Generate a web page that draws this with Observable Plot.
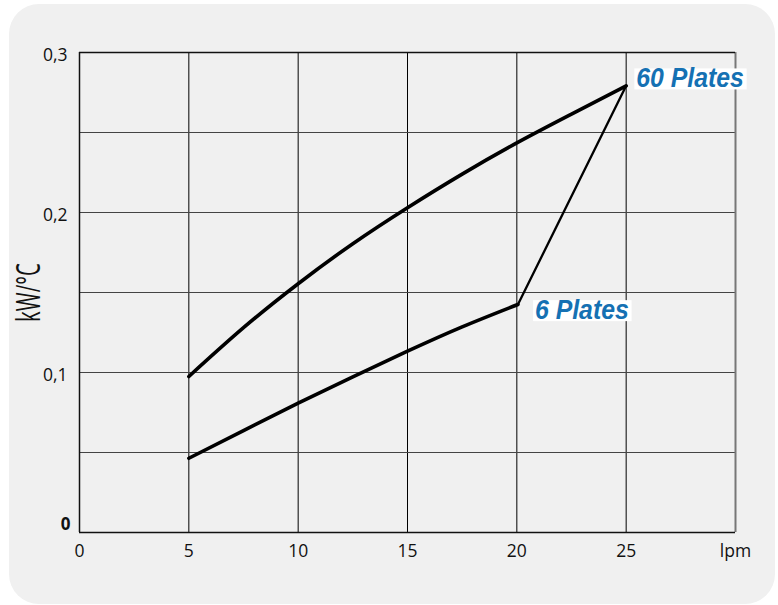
<!DOCTYPE html>
<html>
<head>
<meta charset="utf-8">
<script src="https://cdn.jsdelivr.net/npm/d3@7"></script>
<script src="https://cdn.jsdelivr.net/npm/@observablehq/plot@0.6"></script>
<style>
  html, body { margin: 0; padding: 0; background: #ffffff; }
  #wrap { position: relative; width: 778px; height: 605px; overflow: hidden; }
  #panel { position: absolute; left: 9px; top: 4px; width: 766px; height: 600px; background: #f0f0f0; border-radius: 30px; }
  #chart { position: absolute; left: 0; top: 0; }
</style>
</head>
<body>
<div id="wrap"><div id="panel"></div><div id="chart"></div></div>
<script>
// Data
const flow60 = [5, 7.5, 10, 12.5, 15, 17.5, 20, 22.5, 25];
const power60 = [0.0975, 0.128, 0.1555, 0.1805, 0.203, 0.224, 0.2435, 0.2615, 0.2792];
const flow6 = [5, 7.5, 10, 12.5, 15, 17.5, 20.05];
const power6 = [0.0464, 0.0637, 0.0808, 0.0973, 0.1133, 0.1285, 0.1425];
const linkFlow = [20.05, 25];
const linkPower = [0.1425, 0.2792];
const xTicks = [0, 5, 10, 15, 20, 25, 30];
const xTickLabels = ["0", "5", "10", "15", "20", "25", "lpm"];
const yTicks = [0.1, 0.2, 0.3];
const yTickLabels = ["0,1", "0,2", "0,3"];
const xGrid = [5, 10, 15, 20, 25];
const yGrid = [0.05, 0.1, 0.15, 0.2, 0.25];
const seriesLabels = ["60 Plates", "6 Plates"];
const yTitle = "kW/°C";

const s60 = flow60.map((x, i) => ({x, y: power60[i]}));
const s6 = flow6.map((x, i) => ({x, y: power6[i]}));
const link = linkFlow.map((x, i) => ({x, y: linkPower[i]}));
const lab60 = [{x: flow60[flow60.length - 1], y: power60[power60.length - 1], t: seriesLabels[0]}];
const lab6 = [{x: flow6[flow6.length - 1], y: power6[power6.length - 1], t: seriesLabels[1]}];

const labelFont = "'Liberation Sans', Arial, sans-serif";

const plot = Plot.plot({
  width: 778,
  height: 605,
  marginLeft: 79,
  marginRight: 43,
  marginTop: 52,
  marginBottom: 73,
  style: {background: "transparent", fontFamily: "'Open Sans', sans-serif", color: "#111"},
  x: {domain: [0, 30]},
  y: {domain: [0, 0.3]},
  marks: [
    Plot.gridX(xGrid, {stroke: "#000", strokeOpacity: 1, strokeWidth: 1}),
    Plot.gridY(yGrid, {stroke: "#444", strokeOpacity: 1, strokeWidth: 1}),
    Plot.ruleX([0], {stroke: "#111", strokeWidth: 1.5}),
    Plot.ruleX([30], {stroke: "#777", strokeWidth: 2}),
    Plot.ruleY([0], {stroke: "#111", strokeWidth: 1.5}),
    Plot.ruleY([0.3], {stroke: "#111", strokeWidth: 1.3}),
    Plot.axisX({ticks: xTicks, tickFormat: d => xTickLabels[xTicks.indexOf(d)], tickSize: 0, tickPadding: 12, fontSize: 17.5, label: null}),
    Plot.axisY({ticks: yTicks, tickFormat: d => yTickLabels[yTicks.indexOf(d)], tickSize: 0, tickPadding: 12, dy: 3, fontSize: 17.5, label: null}),
    Plot.axisY({ticks: [0], tickFormat: () => "0", tickSize: 0, tickPadding: 9, dy: -8, fontSize: 17, fontWeight: "bold", label: null}),
    Plot.text([yTitle], {frameAnchor: "left", textAnchor: "middle", dx: -50, rotate: -90, fontSize: 32, fontFamily: "'Open Sans', sans-serif", fill: "#111", className: "ytitle"}),
    Plot.line(link, {x: "x", y: "y", stroke: "#000", strokeWidth: 2.3}),
    Plot.line(s60, {x: "x", y: "y", stroke: "#000", strokeWidth: 3.6, curve: "natural"}),
    Plot.line(s6, {x: "x", y: "y", stroke: "#000", strokeWidth: 3.6, curve: "natural"}),
    Plot.text(lab60, {x: "x", y: "y", text: "t", textAnchor: "start", dx: 10, dy: -7, fontSize: 27, fontWeight: "bold", fontStyle: "italic", fontFamily: labelFont, fill: "#1571b3", className: "plate-label"}),
    Plot.text(lab6, {x: "x", y: "y", text: "t", textAnchor: "start", dx: 17, dy: 6, fontSize: 27, fontWeight: "bold", fontStyle: "italic", fontFamily: labelFont, fill: "#1571b3", className: "plate-label"})
  ]
});
document.getElementById("chart").appendChild(plot);

// narrow the rotated axis title, as in the reference
d3.select(plot).selectAll(".ytitle text").each(function() {
  const tr = this.getAttribute("transform") || "";
  this.setAttribute("transform", tr + " scale(0.64,1)");
});

// slightly condensed series labels with white boxes sized from the rendered text
d3.select(plot).selectAll(".plate-label text").each(function() {
  const tr0 = this.getAttribute("transform") || "";
  const tr = tr0 + " scale(0.92,1)";
  this.setAttribute("transform", tr);
  const b = this.getBBox();
  const r = document.createElementNS("http://www.w3.org/2000/svg", "rect");
  r.setAttribute("x", b.x - 2);
  r.setAttribute("y", b.y + b.height * 0.17);
  r.setAttribute("width", b.width + 5);
  r.setAttribute("height", b.height * 0.72);
  r.setAttribute("fill", "#ffffff");
  r.setAttribute("transform", tr);
  this.parentNode.insertBefore(r, this);
});
</script>
</body>
</html>
